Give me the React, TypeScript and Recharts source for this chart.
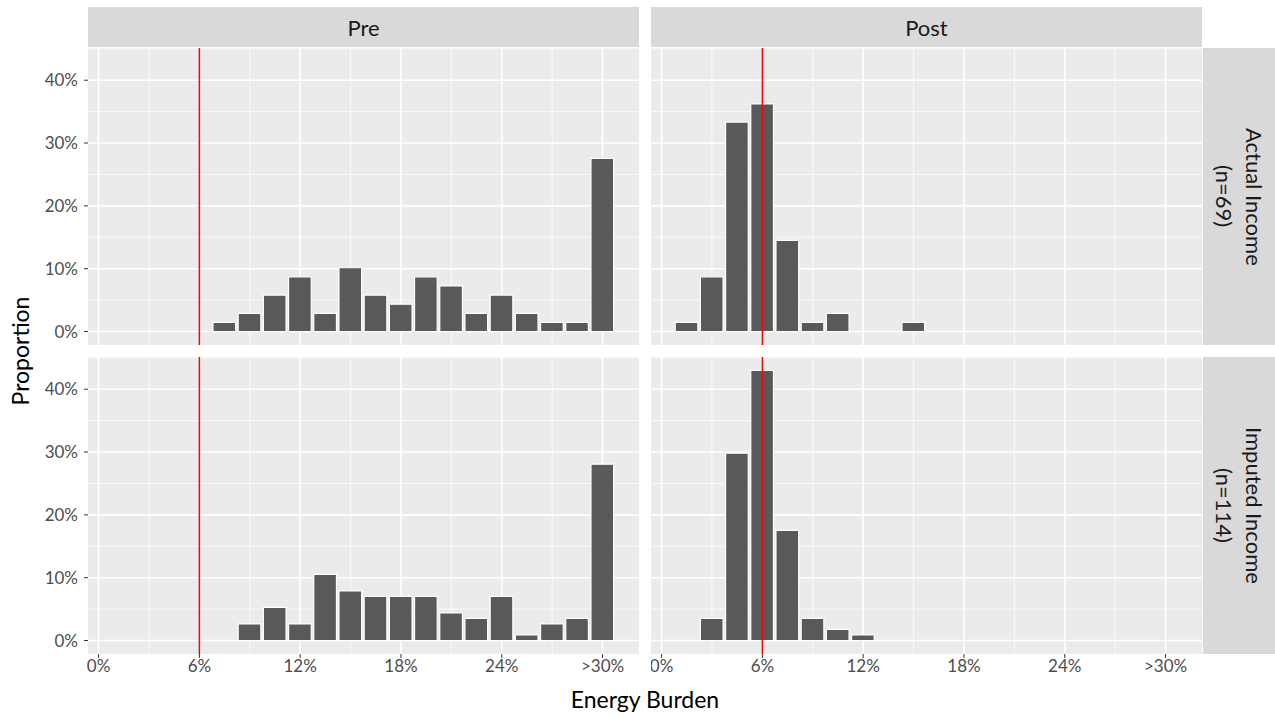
import { BarChart, Bar, XAxis, YAxis, CartesianGrid, ReferenceLine } from "recharts";

// histogram bins (centre of each 1.5% bin)
const binCenters = [0, 1.5, 3, 4.5, 6, 7.5, 9, 10.5, 12, 13.5, 15, 16.5, 18, 19.5, 21, 22.5, 24, 25.5, 27, 28.5, 30];

// household counts per bin
const preActual = [0, 0, 0, 0, 0, 1, 2, 4, 6, 2, 7, 4, 3, 6, 5, 2, 4, 2, 1, 1, 19];
const postActual = [0, 1, 6, 23, 25, 10, 1, 2, 0, 0, 1, 0, 0, 0, 0, 0, 0, 0, 0, 0, 0];
const preImputed = [0, 0, 0, 0, 0, 0, 3, 6, 3, 12, 9, 8, 8, 8, 5, 4, 8, 1, 3, 4, 32];
const postImputed = [0, 0, 4, 34, 49, 20, 4, 2, 1, 0, 0, 0, 0, 0, 0, 0, 0, 0, 0, 0, 0];

const nActual = 69;
const nImputed = 114;

const xTicks = [0, 6, 12, 18, 24, 30];
const xTickLabels = ["0%", "6%", "12%", "18%", "24%", ">30%"];
const xMinor = [3, 9, 15, 21, 27];
const yTicks = [0, 10, 20, 30, 40];
const yMinor = [5, 15, 25, 35, 45];

const colLabels = ["Pre", "Post"];
const rowLabels = [["Actual Income", "(n=69)"], ["Imputed Income", "(n=114)"]];

const burdenLine = 6;

const FONT = "Lato, 'Open Sans', sans-serif";
const X_DOMAIN: [number, number] = [-0.63, 32.17];
const Y_DOMAIN: [number, number] = [-2.15, 45.13];
const PANEL_W = 551;
const PANEL_H = 297;
const Y_AXIS_W = 60;
const X_AXIS_H = 30;
const BAR_PX = (1.5 * PANEL_W) / (X_DOMAIN[1] - X_DOMAIN[0]);

interface PanelProps {
  counts: number[];
  n: number;
  left: number;
  top: number;
  showX: boolean;
  showY: boolean;
}

function Panel({ counts, n, left, top, showX, showY }: PanelProps) {
  const data = binCenters.map((x, i) => ({ x, prop: (counts[i] / n) * 100 }));
  const width = PANEL_W + (showY ? Y_AXIS_W : 0);
  const height = PANEL_H + (showX ? X_AXIS_H : 0);
  return (
    <div style={{ position: "absolute", left: showY ? left - Y_AXIS_W : left, top }}>
      <BarChart width={width} height={height} data={data} margin={{ top: 0, right: 0, bottom: 0, left: 0 }}>
        <CartesianGrid
          fill="#EBEBEB"
          stroke="#FFFFFF"
          strokeWidth={0.8}
          verticalValues={xMinor}
          horizontalValues={yMinor}
        />
        <CartesianGrid stroke="#FFFFFF" strokeWidth={1.6} verticalValues={xTicks} horizontalValues={yTicks} />
        <XAxis
          dataKey="x"
          type="number"
          domain={X_DOMAIN}
          allowDataOverflow
          ticks={xTicks}
          interval={0}
          hide={!showX}
          height={X_AXIS_H}
          axisLine={false}
          tickSize={4}
          tickMargin={2}
          tickLine={{ stroke: "#333333" }}
          tick={{ fill: "#4D4D4D", fontSize: 17, fontFamily: FONT }}
          tickFormatter={(v: number) => xTickLabels[xTicks.indexOf(v)] ?? ""}
        />
        <YAxis
          type="number"
          domain={Y_DOMAIN}
          allowDataOverflow
          ticks={yTicks}
          interval={0}
          hide={!showY}
          width={Y_AXIS_W}
          axisLine={false}
          tickSize={4}
          tickMargin={6}
          tickLine={{ stroke: "#333333" }}
          tick={{ fill: "#4D4D4D", fontSize: 17, fontFamily: FONT }}
          tickFormatter={(v: number) => `${v}%`}
        />
        <Bar dataKey="prop" fill="#595959" stroke="#FFFFFF" strokeWidth={1.2} barSize={BAR_PX} isAnimationActive={false} />
        <ReferenceLine x={burdenLine} stroke="#FF0000" strokeWidth={1.5} />
      </BarChart>
    </div>
  );
}

const stripStyle: React.CSSProperties = {
  position: "absolute",
  background: "#D9D9D9",
  color: "#1A1A1A",
  fontFamily: FONT,
  fontSize: 22,
  display: "flex",
  alignItems: "center",
  justifyContent: "center",
};

export default function App() {
  const colLeft = [88, 651];
  const rowTop = [48, 357];
  return (
    <div style={{ position: "absolute", left: 0, top: 0, width: 1275, height: 716, background: "#FFFFFF", fontFamily: FONT }}>
      {colLabels.map((c, i) => (
        <div key={c} style={{ ...stripStyle, left: colLeft[i], top: 7, width: PANEL_W, height: 40 }}>
          {c}
        </div>
      ))}
      {rowLabels.map((r, i) => (
        <div key={r[0]} style={{ ...stripStyle, left: 1203, top: rowTop[i], width: 72, height: PANEL_H }}>
          <div style={{ writingMode: "vertical-rl", textAlign: "center", lineHeight: "30px" }}>
            {r[0]}
            <br />
            {r[1]}
          </div>
        </div>
      ))}
      <Panel counts={preActual} n={nActual} left={colLeft[0]} top={rowTop[0]} showX={false} showY />
      <Panel counts={postActual} n={nActual} left={colLeft[1]} top={rowTop[0]} showX={false} showY={false} />
      <Panel counts={preImputed} n={nImputed} left={colLeft[0]} top={rowTop[1]} showX showY />
      <Panel counts={postImputed} n={nImputed} left={colLeft[1]} top={rowTop[1]} showX showY={false} />
      <div
        style={{
          position: "absolute",
          left: 645 - 150,
          top: 685,
          width: 300,
          textAlign: "center",
          fontSize: 23,
          color: "#000000",
        }}
      >
        Energy Burden
      </div>
      <div
        style={{
          position: "absolute",
          left: 20 - 150,
          top: 351 - 14,
          width: 300,
          height: 28,
          textAlign: "center",
          fontSize: 23,
          color: "#000000",
          transform: "rotate(-90deg)",
        }}
      >
        Proportion
      </div>
    </div>
  );
}
